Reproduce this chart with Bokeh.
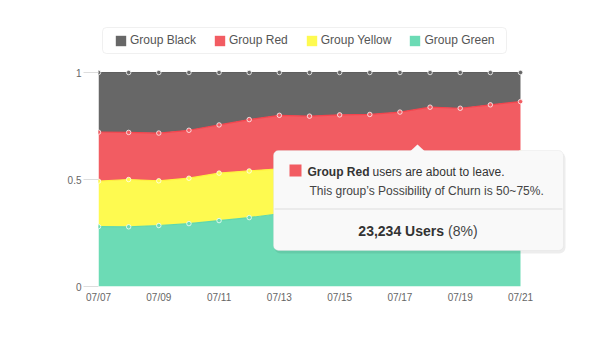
import numpy as np
from bokeh.plotting import figure
from bokeh.models import (ColumnDataSource, Legend, LegendItem, BoxAnnotation, Label,
                          PolyAnnotation, FixedTicker, Range1d)
from bokeh.embed import file_html
from bokeh.resources import INLINE

# ---------------- data ----------------
dates = ["07/07", "07/08", "07/09", "07/10", "07/11", "07/12", "07/13", "07/14",
         "07/15", "07/16", "07/17", "07/18", "07/19", "07/20", "07/21"]
tick_labels = ["07/07", "07/09", "07/11", "07/13", "07/15", "07/17", "07/19", "07/21"]

groups = ["Group Black", "Group Red", "Group Yellow", "Group Green"]
group_colors = ["#676767", "#f25c62", "#fefa50", "#6cdbb5"]
line_colors = ["#5e5e5e", "#f5434c", "#fff23c", "#5fd7ac"]

# share of users per group (fractions, stacked to 1)
green = [0.280, 0.279, 0.285, 0.294, 0.308, 0.322, 0.340, 0.350, 0.360, 0.368, 0.376, 0.385, 0.393, 0.400, 0.408]
yellow = [0.212, 0.221, 0.209, 0.212, 0.222, 0.218, 0.210, 0.206, 0.202, 0.202, 0.204, 0.211, 0.209, 0.212, 0.217]
red = [0.229, 0.220, 0.223, 0.224, 0.225, 0.240, 0.250, 0.240, 0.240, 0.234, 0.235, 0.242, 0.231, 0.237, 0.239]
black = [0.279, 0.280, 0.283, 0.270, 0.245, 0.220, 0.200, 0.204, 0.198, 0.196, 0.185, 0.162, 0.167, 0.151, 0.136]

y_ticks = [0, 0.5, 1]
y_tick_labels = ["0", "0.5", "1"]

tip_title_bold = "Group Red"
tip_title_rest = "users are about to leave."
tip_line2 = "This group\u2019s Possibility of Churn is 50~75%."
tip_count_bold = "23,234 Users"
tip_count_rest = "(8%)"

# ---------------- figure ----------------
W, H = 608, 343
L, B = 98, 57            # left / bottom borders
DATA_RIGHT, DATA_TOP = 520, 72   # canvas px where the data region ends
FRAME_RIGHT, FRAME_TOP = 574, 18  # frame extends further so overlays are not clipped
FB = H - B  # frame bottom in canvas px
FONT = "Liberation Sans"

x = list(range(len(dates)))
n_last = len(dates) - 1
x_end = n_last * (FRAME_RIGHT - L) / (DATA_RIGHT - L)
y_end = (FB - FRAME_TOP) / (FB - DATA_TOP)

src = ColumnDataSource(dict(x=x, green=green, yellow=yellow, red=red, black=black))

p = figure(width=W, height=H, output_backend="svg", toolbar_location=None,
           x_range=Range1d(0, x_end), y_range=Range1d(0, y_end),
           min_border_left=L, min_border_right=W - FRAME_RIGHT,
           min_border_top=FRAME_TOP, min_border_bottom=B)
p.outline_line_color = None
p.grid.grid_line_color = None
p.background_fill_color = "white"
p.border_fill_color = "white"

stack_names = ["green", "yellow", "red", "black"]
stack_colors = [group_colors[3], group_colors[2], group_colors[1], group_colors[0]]
stack_lines = [line_colors[3], line_colors[2], line_colors[1], line_colors[0]]
areas = p.varea_stack(stack_names, x="x", color=stack_colors, source=src)

cum = np.cumsum(np.array([green, yellow, red, black]), axis=0)
for i in range(4):
    p.line(x, cum[i], line_color=stack_lines[i], line_width=1.2)
for i in range(4):
    p.scatter(x, cum[i], size=4.5, fill_color=stack_colors[i], line_color="white",
              line_alpha=0.75, line_width=1)

# axes
p.xaxis.ticker = FixedTicker(ticks=[x[i] for i in range(0, len(dates), 2)])
p.xaxis.major_label_overrides = {x[i]: tick_labels[i // 2] for i in range(0, len(dates), 2)}
p.xaxis.axis_line_color = None
p.xaxis.major_tick_line_color = None
p.xaxis.minor_tick_line_color = None
p.xaxis.major_tick_out = 0
p.xaxis.major_label_standoff = 5
p.yaxis.ticker = FixedTicker(ticks=y_ticks)
p.yaxis.major_label_overrides = {t: l for t, l in zip(y_ticks, y_tick_labels)}
p.yaxis.axis_line_color = None
p.yaxis.minor_tick_line_color = None
p.yaxis.major_tick_line_color = "#dddddd"
p.yaxis.major_tick_out = 15
p.yaxis.major_tick_in = 0
p.yaxis.major_label_standoff = 2
for ax in (p.xaxis, p.yaxis):
    ax.major_label_text_font = FONT
    ax.major_label_text_font_size = "10px"
    ax.major_label_text_color = "#666666"


def sx(cx):
    return cx - L


def sy(cy):
    return FB - cy


def box(l, r, t, b, **kw):
    p.add_layout(BoxAnnotation(left=sx(l), right=sx(r), top=sy(t), bottom=sy(b),
                               left_units="screen", right_units="screen",
                               top_units="screen", bottom_units="screen",
                               level="overlay", **kw))


# legend frame
box(102, 506, 27, 53, fill_color="white", fill_alpha=1, line_color="#cccccc",
    line_width=1, border_radius=4)

legend_renderers = {"Group Black": areas[3], "Group Red": areas[2],
                    "Group Yellow": areas[1], "Group Green": areas[0]}
legend = Legend(items=[LegendItem(label=g, renderers=[legend_renderers[g]]) for g in groups],
                orientation="horizontal", location=(sx(107), sy(54)),
                label_text_font=FONT, label_text_font_size="12px", label_text_color="#555555",
                glyph_width=13, glyph_height=13, label_height=13, label_standoff=3,
                spacing=17, padding=7, margin=0, border_line_alpha=0,
                background_fill_alpha=0)
p.add_layout(legend)

# tooltip
tl, tr, tt, tb = 273, 563, 150, 250
box(tl + 1, tr + 2, tt + 2, tb + 3, fill_color="black", fill_alpha=0.07, line_alpha=0,
    border_radius=6)
box(tl, tr, tt, tb, fill_color="#f9f9f9", fill_alpha=1, line_color="#dcdcdc",
    line_width=1, border_radius=5)
p.add_layout(PolyAnnotation(xs=[sx(410), sx(417), sx(424)], ys=[sy(150.5), sy(144), sy(150.5)],
                            xs_units="screen", ys_units="screen",
                            fill_color="#f9f9f9", fill_alpha=1, line_alpha=0, level="overlay"))
box(tl + 1, tr - 1, 208, 209, fill_color="#dddddd", fill_alpha=1, line_alpha=0)
box(289, 301, 164, 176, fill_color=group_colors[1], fill_alpha=1, line_alpha=0)


def lab(cx, cy, text, size, bold=False, color="#333333", align="left"):
    p.add_layout(Label(x=sx(cx), y=sy(cy), x_units="screen", y_units="screen", text=text,
                       text_font=FONT, text_font_size=size,
                       text_font_style="bold" if bold else "normal",
                       text_color=color, text_align=align, text_baseline="alphabetic",
                       level="overlay"))


lab(307, 171, tip_title_bold, "12px", bold=True)
lab(372, 171, tip_title_rest, "12px", color="#333333")
lab(309, 190, tip_line2, "12px", color="#444444")
lab(443.5, 230, tip_count_bold, "14px", bold=True, align="right")
lab(447.5, 230, tip_count_rest, "14px", color="#444444")

open("out.html", "w").write(file_html(p, INLINE))
